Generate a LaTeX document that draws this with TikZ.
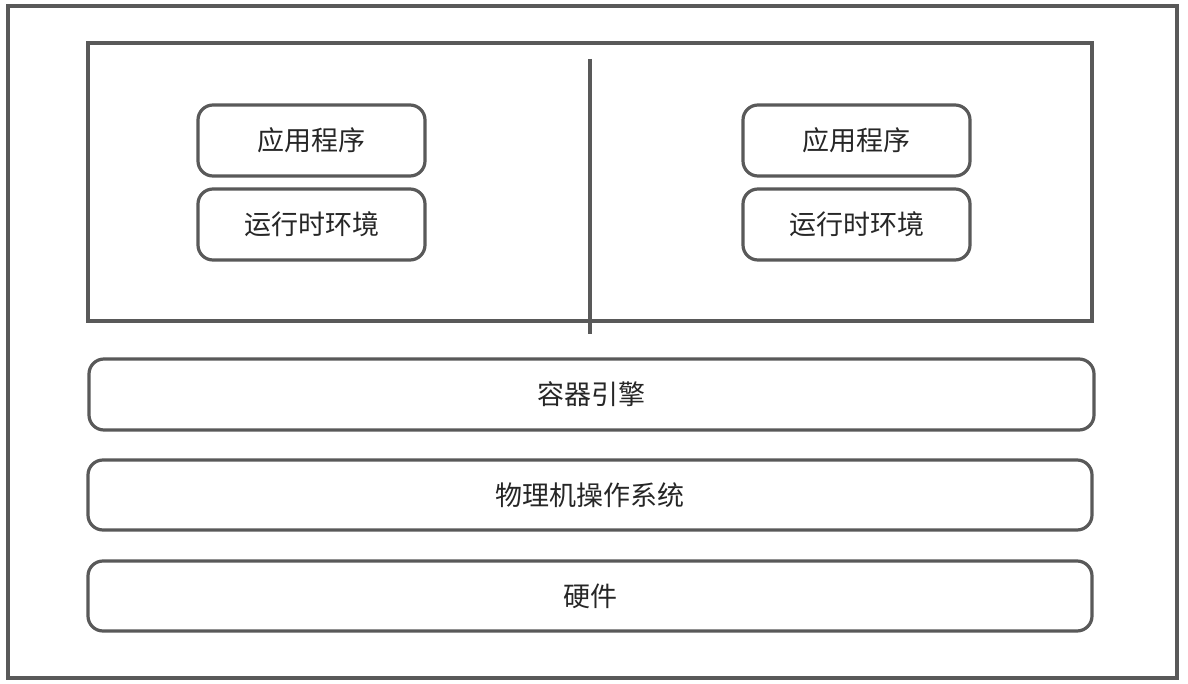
\documentclass[tikz,border=0pt]{standalone}
\usepackage{fontspec}
\newfontfamily\cjk{Noto Sans CJK SC}
\definecolor{lineg}{HTML}{595959}
\definecolor{textg}{HTML}{262626}
\tikzset{
  frame/.style={draw=lineg, line width=3.2pt},
  layer/.style={draw=lineg, line width=3.2pt, rounded corners=15pt},
  lbl/.style={text=textg, font=\cjk\fontsize{27}{31}\selectfont},
}
\begin{document}
\begin{tikzpicture}[x=1pt,y=-1pt]
\useasboundingbox (0,0) rectangle (1188,684);
\fill[white] (0,0) rectangle (1188,684);
% outer frame
\draw[frame] (8,6) rectangle (1177,678);
% container area
\draw[frame] (88,43) rectangle (1092,321);
\coordinate (divtop) at (590,59);
\coordinate (divbot) at (590,334);
\draw[frame] (divtop) -- (divbot);
% left stack
\draw[layer] (198,105) rectangle (425,176);
\node[lbl] (app1) at (311.5,140.5) {应用程序};
\draw[layer] (198,189) rectangle (425,260);
\node[lbl] (rt1) at (311.5,224.5) {运行时环境};
% right stack
\draw[layer] (743,105) rectangle (970,176);
\node[lbl] (app2) at (856.5,140.5) {应用程序};
\draw[layer] (743,189) rectangle (970,260);
\node[lbl] (rt2) at (856.5,224.5) {运行时环境};
% layers
\draw[layer] (89,359) rectangle (1094,430);
\node[lbl] (engine) at (591.5,394.5) {容器引擎};
\draw[layer] (88,460) rectangle (1092,530);
\node[lbl] (os) at (590,495) {物理机操作系统};
\draw[layer] (88,561) rectangle (1092,631);
\node[lbl] (hw) at (590,596) {硬件};
\end{tikzpicture}
\end{document}
